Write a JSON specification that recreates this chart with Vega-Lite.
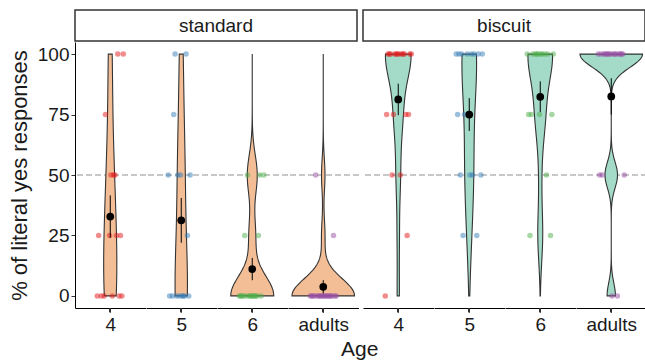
{
  "$schema": "https://vega.github.io/schema/vega-lite/v6.json",
  "background": "white",
  "padding": {"left": 8, "top": 9, "right": 1, "bottom": 0},
  "config": {
    "view": {"stroke": null},
    "font": "Liberation Sans",
    "axis": {"grid": false, "domainColor": "#000000", "tickColor": "#333333", "labelColor": "#1a1a1a", "titleColor": "#1a1a1a", "labelFont": "Liberation Sans", "titleFont": "Liberation Sans", "titleFontWeight": "normal"},
    "axisX": {"labels": false, "ticks": false, "domain": true, "titleFontSize": 19, "titlePadding": 7},
    "circle": {"size": 30, "opacity": 0.5},
    "errorbar": {"color": "black", "thickness": 1.3},
    "area": {"stroke": "#333333", "strokeWidth": 1.1}
  },
  "datasets": {
    "standard": [
      {"age": "4", "v": 0, "id": 1}, {"age": "4", "v": 0, "id": 4}, {"age": "4", "v": 0, "id": 6}, {"age": "4", "v": 0, "id": 12}, {"age": "4", "v": 0, "id": 17}, {"age": "4", "v": 0, "id": 19},
      {"age": "4", "v": 25, "id": 2}, {"age": "4", "v": 25, "id": 10}, {"age": "4", "v": 25, "id": 15}, {"age": "4", "v": 25, "id": 18},
      {"age": "4", "v": 50, "id": 11}, {"age": "4", "v": 50, "id": 13}, {"age": "4", "v": 50, "id": 14},
      {"age": "4", "v": 75, "id": 7},
      {"age": "4", "v": 100, "id": 16}, {"age": "4", "v": 100, "id": 20},
      {"age": "5", "v": 100, "id": 6}, {"age": "5", "v": 100, "id": 14},
      {"age": "5", "v": 75, "id": 5},
      {"age": "5", "v": 50, "id": 1}, {"age": "5", "v": 50, "id": 8}, {"age": "5", "v": 50, "id": 10}, {"age": "5", "v": 50, "id": 17},
      {"age": "5", "v": 25, "id": 15},
      {"age": "5", "v": 0, "id": 2}, {"age": "5", "v": 0, "id": 4}, {"age": "5", "v": 0, "id": 7}, {"age": "5", "v": 0, "id": 9}, {"age": "5", "v": 0, "id": 11}, {"age": "5", "v": 0, "id": 12}, {"age": "5", "v": 0, "id": 13}, {"age": "5", "v": 0, "id": 16},
      {"age": "6", "v": 50, "id": 7}, {"age": "6", "v": 50, "id": 16}, {"age": "6", "v": 50, "id": 19},
      {"age": "6", "v": 25, "id": 5}, {"age": "6", "v": 25, "id": 15},
      {"age": "6", "v": 0, "id": 1}, {"age": "6", "v": 0, "id": 2}, {"age": "6", "v": 0, "id": 3}, {"age": "6", "v": 0, "id": 4}, {"age": "6", "v": 0, "id": 6}, {"age": "6", "v": 0, "id": 8}, {"age": "6", "v": 0, "id": 9}, {"age": "6", "v": 0, "id": 10}, {"age": "6", "v": 0, "id": 11}, {"age": "6", "v": 0, "id": 12}, {"age": "6", "v": 0, "id": 13}, {"age": "6", "v": 0, "id": 14}, {"age": "6", "v": 0, "id": 17},
      {"age": "adults", "v": 50, "id": 5},
      {"age": "adults", "v": 25, "id": 18},
      {"age": "adults", "v": 0, "id": 1}, {"age": "adults", "v": 0, "id": 2}, {"age": "adults", "v": 0, "id": 3}, {"age": "adults", "v": 0, "id": 4}, {"age": "adults", "v": 0, "id": 6}, {"age": "adults", "v": 0, "id": 7}, {"age": "adults", "v": 0, "id": 8}, {"age": "adults", "v": 0, "id": 9}, {"age": "adults", "v": 0, "id": 10}, {"age": "adults", "v": 0, "id": 11}, {"age": "adults", "v": 0, "id": 12}, {"age": "adults", "v": 0, "id": 13}, {"age": "adults", "v": 0, "id": 14}, {"age": "adults", "v": 0, "id": 15}, {"age": "adults", "v": 0, "id": 16}, {"age": "adults", "v": 0, "id": 17}, {"age": "adults", "v": 0, "id": 19}, {"age": "adults", "v": 0, "id": 20}
    ],
    "biscuit": [
      {"age": "4", "v": 75, "id": 2}, {"age": "4", "v": 75, "id": 7}, {"age": "4", "v": 75, "id": 16}, {"age": "4", "v": 75, "id": 18},
      {"age": "4", "v": 50, "id": 6}, {"age": "4", "v": 50, "id": 12},
      {"age": "4", "v": 25, "id": 17},
      {"age": "4", "v": 0, "id": 1},
      {"age": "4", "v": 100, "id": 3}, {"age": "4", "v": 100, "id": 4}, {"age": "4", "v": 100, "id": 5}, {"age": "4", "v": 100, "id": 8}, {"age": "4", "v": 100, "id": 9}, {"age": "4", "v": 100, "id": 10}, {"age": "4", "v": 100, "id": 11}, {"age": "4", "v": 100, "id": 13}, {"age": "4", "v": 100, "id": 14}, {"age": "4", "v": 100, "id": 15}, {"age": "4", "v": 100, "id": 19}, {"age": "4", "v": 100, "id": 20},
      {"age": "5", "v": 75, "id": 2}, {"age": "5", "v": 75, "id": 7}, {"age": "5", "v": 75, "id": 10},
      {"age": "5", "v": 50, "id": 4}, {"age": "5", "v": 50, "id": 11}, {"age": "5", "v": 50, "id": 13}, {"age": "5", "v": 50, "id": 19},
      {"age": "5", "v": 25, "id": 6}, {"age": "5", "v": 25, "id": 16},
      {"age": "5", "v": 100, "id": 1}, {"age": "5", "v": 100, "id": 3}, {"age": "5", "v": 100, "id": 5}, {"age": "5", "v": 100, "id": 9}, {"age": "5", "v": 100, "id": 12}, {"age": "5", "v": 100, "id": 14}, {"age": "5", "v": 100, "id": 17}, {"age": "5", "v": 100, "id": 20},
      {"age": "6", "v": 75, "id": 2}, {"age": "6", "v": 75, "id": 4}, {"age": "6", "v": 75, "id": 10}, {"age": "6", "v": 75, "id": 19},
      {"age": "6", "v": 50, "id": 15},
      {"age": "6", "v": 25, "id": 3}, {"age": "6", "v": 25, "id": 18},
      {"age": "6", "v": 100, "id": 1}, {"age": "6", "v": 100, "id": 5}, {"age": "6", "v": 100, "id": 7}, {"age": "6", "v": 100, "id": 8}, {"age": "6", "v": 100, "id": 9}, {"age": "6", "v": 100, "id": 11}, {"age": "6", "v": 100, "id": 12}, {"age": "6", "v": 100, "id": 14}, {"age": "6", "v": 100, "id": 16}, {"age": "6", "v": 100, "id": 20},
      {"age": "adults", "v": 50, "id": 2}, {"age": "adults", "v": 50, "id": 4}, {"age": "adults", "v": 50, "id": 20},
      {"age": "adults", "v": 0, "id": 11}, {"age": "adults", "v": 0, "id": 15},
      {"age": "adults", "v": 100, "id": 1}, {"age": "adults", "v": 100, "id": 3}, {"age": "adults", "v": 100, "id": 5}, {"age": "adults", "v": 100, "id": 6}, {"age": "adults", "v": 100, "id": 7}, {"age": "adults", "v": 100, "id": 8}, {"age": "adults", "v": 100, "id": 9}, {"age": "adults", "v": 100, "id": 10}, {"age": "adults", "v": 100, "id": 12}, {"age": "adults", "v": 100, "id": 13}, {"age": "adults", "v": 100, "id": 14}, {"age": "adults", "v": 100, "id": 16}, {"age": "adults", "v": 100, "id": 17}, {"age": "adults", "v": 100, "id": 18}, {"age": "adults", "v": 100, "id": 19}
    ]
  },
  "title": {"text": "Age", "orient": "bottom", "anchor": "middle", "fontSize": 21, "fontWeight": "normal", "color": "#1a1a1a", "offset": 5, "dx": 32},
  "spacing": 2,
  "hconcat": [
    {
      "spacing": 0,
      "vconcat": [
        {
          "data": {"values": [{"t": "standard"}]},
          "width": 282, "height": 31,
          "view": {"stroke": "#333333", "strokeWidth": 1.5},
          "mark": {"type": "text", "fontSize": 19, "color": "#1a1a1a"},
          "encoding": {"text": {"field": "t"}}
        },
        {
          "spacing": 0,
          "bounds": "flush",
          "resolve": {"scale": {"x": "shared"}},
          "hconcat": [
            {
              "width": 70.5, "height": 266, "data": {"name": "standard"},
              "layer": [
                {"mark": {"type": "rule", "color": "#c8c8c8", "strokeDash": [5, 4], "strokeWidth": 1.2}, "encoding": {"y": {"datum": 50, "type": "quantitative", "title": "% of literal yes responses"}}},
                {"transform": [{"density": "v", "groupby": ["age"], "as": ["value", "density"]}, {"stack": "density", "groupby": ["value", "age"], "offset": "center", "as": ["x0", "x1"]}, {"filter": "datum.age === '4'"}],
                 "mark": {"type": "area", "orient": "horizontal", "fill": "#F3BE96"},
                 "encoding": {"y": {"field": "value", "type": "quantitative", "title": "% of literal yes responses", "scale": {"domain": [-5, 105], "nice": false, "zero": false}, "axis": {"values": [0, 25, 50, 75, 100], "labelFontSize": 19, "titleFontSize": 22, "tickSize": 4, "labelPadding": 2, "titlePadding": 6}},
                   "x": {"field": "x0", "type": "quantitative", "scale": {"nice": false, "zero": true, "padding": 4}, "axis": {"title": "4"}}, "x2": {"field": "x1"}}},
                {"transform": [{"filter": "datum.age === '4'"}], "mark": {"type": "rule", "color": "#333333"}, "encoding": {"y": {"datum": -5, "type": "quantitative", "title": "% of literal yes responses"}, "y2": {"datum": -6.7}}},
                {"transform": [{"filter": "datum.age === '4'"}], "mark": "circle", "encoding": {"xOffset": {"field": "id", "type": "quantitative", "scale": {"domain": [1, 20], "range": [-13, 13]}}, "y": {"field": "v", "type": "quantitative", "title": "% of literal yes responses"}, "color": {"field": "age", "type": "nominal", "scale": {"domain": ["4", "5", "6", "adults"], "range": ["#E41A1C", "#377EB8", "#4DAF4A", "#984EA3"]}, "legend": null}}},
                {"transform": [{"filter": "datum.age === '4'"}], "mark": {"type": "errorbar", "extent": "stderr"}, "encoding": {"y": {"field": "v", "type": "quantitative", "title": "% of literal yes responses"}}},
                {"transform": [{"filter": "datum.age === '4'"}], "mark": {"type": "point", "filled": true, "size": 60, "color": "black", "opacity": 1}, "encoding": {"y": {"field": "v", "aggregate": "mean", "type": "quantitative", "title": "% of literal yes responses"}}}
              ]
            },
            {
              "width": 70.5, "height": 266, "data": {"name": "standard"},
              "layer": [
                {"mark": {"type": "rule", "color": "#c8c8c8", "strokeDash": [5, 4], "strokeWidth": 1.2}, "encoding": {"y": {"datum": 50, "type": "quantitative", "axis": null}}},
                {"transform": [{"density": "v", "groupby": ["age"], "as": ["value", "density"]}, {"stack": "density", "groupby": ["value", "age"], "offset": "center", "as": ["x0", "x1"]}, {"filter": "datum.age === '5'"}],
                 "mark": {"type": "area", "orient": "horizontal", "fill": "#F3BE96"},
                 "encoding": {"y": {"field": "value", "type": "quantitative", "scale": {"domain": [-5, 105], "nice": false, "zero": false}, "axis": null},
                   "x": {"field": "x0", "type": "quantitative", "scale": {"nice": false, "zero": true, "padding": 4}, "axis": {"title": "5"}}, "x2": {"field": "x1"}}},
                {"transform": [{"filter": "datum.age === '5'"}], "mark": {"type": "rule", "color": "#333333"}, "encoding": {"y": {"datum": -5, "type": "quantitative", "axis": null}, "y2": {"datum": -6.7}}},
                {"transform": [{"filter": "datum.age === '5'"}], "mark": "circle", "encoding": {"xOffset": {"field": "id", "type": "quantitative", "scale": {"domain": [1, 20], "range": [-13, 13]}}, "y": {"field": "v", "type": "quantitative", "axis": null}, "color": {"field": "age", "type": "nominal", "legend": null}}},
                {"transform": [{"filter": "datum.age === '5'"}], "mark": {"type": "errorbar", "extent": "stderr"}, "encoding": {"y": {"field": "v", "type": "quantitative", "axis": null}}},
                {"transform": [{"filter": "datum.age === '5'"}], "mark": {"type": "point", "filled": true, "size": 60, "color": "black", "opacity": 1}, "encoding": {"y": {"field": "v", "aggregate": "mean", "type": "quantitative", "axis": null}}}
              ]
            },
            {
              "width": 70.5, "height": 266, "data": {"name": "standard"},
              "layer": [
                {"mark": {"type": "rule", "color": "#c8c8c8", "strokeDash": [5, 4], "strokeWidth": 1.2}, "encoding": {"y": {"datum": 50, "type": "quantitative", "axis": null}}},
                {"transform": [{"density": "v", "groupby": ["age"], "as": ["value", "density"]}, {"stack": "density", "groupby": ["value", "age"], "offset": "center", "as": ["x0", "x1"]}, {"filter": "datum.age === '6'"}],
                 "mark": {"type": "area", "orient": "horizontal", "fill": "#F3BE96"},
                 "encoding": {"y": {"field": "value", "type": "quantitative", "scale": {"domain": [-5, 105], "nice": false, "zero": false}, "axis": null},
                   "x": {"field": "x0", "type": "quantitative", "scale": {"nice": false, "zero": true, "padding": 4}, "axis": {"title": "6"}}, "x2": {"field": "x1"}}},
                {"transform": [{"filter": "datum.age === '6'"}], "mark": {"type": "rule", "color": "#333333"}, "encoding": {"y": {"datum": -5, "type": "quantitative", "axis": null}, "y2": {"datum": -6.7}}},
                {"transform": [{"filter": "datum.age === '6'"}], "mark": "circle", "encoding": {"xOffset": {"field": "id", "type": "quantitative", "scale": {"domain": [1, 20], "range": [-13, 13]}}, "y": {"field": "v", "type": "quantitative", "axis": null}, "color": {"field": "age", "type": "nominal", "legend": null}}},
                {"transform": [{"filter": "datum.age === '6'"}], "mark": {"type": "errorbar", "extent": "stderr"}, "encoding": {"y": {"field": "v", "type": "quantitative", "axis": null}}},
                {"transform": [{"filter": "datum.age === '6'"}], "mark": {"type": "point", "filled": true, "size": 60, "color": "black", "opacity": 1}, "encoding": {"y": {"field": "v", "aggregate": "mean", "type": "quantitative", "axis": null}}}
              ]
            },
            {
              "width": 70.5, "height": 266, "data": {"name": "standard"},
              "layer": [
                {"mark": {"type": "rule", "color": "#c8c8c8", "strokeDash": [5, 4], "strokeWidth": 1.2}, "encoding": {"y": {"datum": 50, "type": "quantitative", "axis": null}}},
                {"transform": [{"density": "v", "groupby": ["age"], "as": ["value", "density"]}, {"stack": "density", "groupby": ["value", "age"], "offset": "center", "as": ["x0", "x1"]}, {"filter": "datum.age === 'adults'"}],
                 "mark": {"type": "area", "orient": "horizontal", "fill": "#F3BE96"},
                 "encoding": {"y": {"field": "value", "type": "quantitative", "scale": {"domain": [-5, 105], "nice": false, "zero": false}, "axis": null},
                   "x": {"field": "x0", "type": "quantitative", "scale": {"nice": false, "zero": true, "padding": 4}, "axis": {"title": "adults"}}, "x2": {"field": "x1"}}},
                {"transform": [{"filter": "datum.age === 'adults'"}], "mark": {"type": "rule", "color": "#333333"}, "encoding": {"y": {"datum": -5, "type": "quantitative", "axis": null}, "y2": {"datum": -6.7}}},
                {"transform": [{"filter": "datum.age === 'adults'"}], "mark": "circle", "encoding": {"xOffset": {"field": "id", "type": "quantitative", "scale": {"domain": [1, 20], "range": [-13, 13]}}, "y": {"field": "v", "type": "quantitative", "axis": null}, "color": {"field": "age", "type": "nominal", "legend": null}}},
                {"transform": [{"filter": "datum.age === 'adults'"}], "mark": {"type": "errorbar", "extent": "stderr"}, "encoding": {"y": {"field": "v", "type": "quantitative", "axis": null}}},
                {"transform": [{"filter": "datum.age === 'adults'"}], "mark": {"type": "point", "filled": true, "size": 60, "color": "black", "opacity": 1}, "encoding": {"y": {"field": "v", "aggregate": "mean", "type": "quantitative", "axis": null}}}
              ]
            }
          ]
        }
      ]
    },
    {
      "spacing": 0,
      "vconcat": [
        {
          "data": {"values": [{"t": "biscuit"}]},
          "width": 282, "height": 31,
          "view": {"stroke": "#333333", "strokeWidth": 1.5},
          "mark": {"type": "text", "fontSize": 19, "color": "#1a1a1a"},
          "encoding": {"text": {"field": "t"}}
        },
        {
          "spacing": 0,
          "bounds": "flush",
          "resolve": {"scale": {"x": "shared"}},
          "hconcat": [
            {
              "width": 70.5, "height": 266, "data": {"name": "biscuit"},
              "layer": [
                {"mark": {"type": "rule", "color": "#c8c8c8", "strokeDash": [5, 4], "strokeWidth": 1.2}, "encoding": {"y": {"datum": 50, "type": "quantitative", "axis": null}}},
                {"transform": [{"density": "v", "groupby": ["age"], "as": ["value", "density"]}, {"stack": "density", "groupby": ["value", "age"], "offset": "center", "as": ["x0", "x1"]}, {"filter": "datum.age === '4'"}],
                 "mark": {"type": "area", "orient": "horizontal", "fill": "#A3DBC8"},
                 "encoding": {"y": {"field": "value", "type": "quantitative", "scale": {"domain": [-5, 105], "nice": false, "zero": false}, "axis": null},
                   "x": {"field": "x0", "type": "quantitative", "scale": {"nice": false, "zero": true, "padding": 4}, "axis": {"title": "4"}}, "x2": {"field": "x1"}}},
                {"transform": [{"filter": "datum.age === '4'"}], "mark": {"type": "rule", "color": "#333333"}, "encoding": {"y": {"datum": -5, "type": "quantitative", "axis": null}, "y2": {"datum": -6.7}}},
                {"transform": [{"filter": "datum.age === '4'"}], "mark": "circle", "encoding": {"xOffset": {"field": "id", "type": "quantitative", "scale": {"domain": [1, 20], "range": [-13, 13]}}, "y": {"field": "v", "type": "quantitative", "axis": null}, "color": {"field": "age", "type": "nominal", "legend": null}}},
                {"transform": [{"filter": "datum.age === '4'"}], "mark": {"type": "errorbar", "extent": "stderr"}, "encoding": {"y": {"field": "v", "type": "quantitative", "axis": null}}},
                {"transform": [{"filter": "datum.age === '4'"}], "mark": {"type": "point", "filled": true, "size": 60, "color": "black", "opacity": 1}, "encoding": {"y": {"field": "v", "aggregate": "mean", "type": "quantitative", "axis": null}}}
              ]
            },
            {
              "width": 70.5, "height": 266, "data": {"name": "biscuit"},
              "layer": [
                {"mark": {"type": "rule", "color": "#c8c8c8", "strokeDash": [5, 4], "strokeWidth": 1.2}, "encoding": {"y": {"datum": 50, "type": "quantitative", "axis": null}}},
                {"transform": [{"density": "v", "groupby": ["age"], "as": ["value", "density"]}, {"stack": "density", "groupby": ["value", "age"], "offset": "center", "as": ["x0", "x1"]}, {"filter": "datum.age === '5'"}],
                 "mark": {"type": "area", "orient": "horizontal", "fill": "#A3DBC8"},
                 "encoding": {"y": {"field": "value", "type": "quantitative", "scale": {"domain": [-5, 105], "nice": false, "zero": false}, "axis": null},
                   "x": {"field": "x0", "type": "quantitative", "scale": {"nice": false, "zero": true, "padding": 4}, "axis": {"title": "5"}}, "x2": {"field": "x1"}}},
                {"transform": [{"filter": "datum.age === '5'"}], "mark": {"type": "rule", "color": "#333333"}, "encoding": {"y": {"datum": -5, "type": "quantitative", "axis": null}, "y2": {"datum": -6.7}}},
                {"transform": [{"filter": "datum.age === '5'"}], "mark": "circle", "encoding": {"xOffset": {"field": "id", "type": "quantitative", "scale": {"domain": [1, 20], "range": [-13, 13]}}, "y": {"field": "v", "type": "quantitative", "axis": null}, "color": {"field": "age", "type": "nominal", "legend": null}}},
                {"transform": [{"filter": "datum.age === '5'"}], "mark": {"type": "errorbar", "extent": "stderr"}, "encoding": {"y": {"field": "v", "type": "quantitative", "axis": null}}},
                {"transform": [{"filter": "datum.age === '5'"}], "mark": {"type": "point", "filled": true, "size": 60, "color": "black", "opacity": 1}, "encoding": {"y": {"field": "v", "aggregate": "mean", "type": "quantitative", "axis": null}}}
              ]
            },
            {
              "width": 70.5, "height": 266, "data": {"name": "biscuit"},
              "layer": [
                {"mark": {"type": "rule", "color": "#c8c8c8", "strokeDash": [5, 4], "strokeWidth": 1.2}, "encoding": {"y": {"datum": 50, "type": "quantitative", "axis": null}}},
                {"transform": [{"density": "v", "groupby": ["age"], "as": ["value", "density"]}, {"stack": "density", "groupby": ["value", "age"], "offset": "center", "as": ["x0", "x1"]}, {"filter": "datum.age === '6'"}],
                 "mark": {"type": "area", "orient": "horizontal", "fill": "#A3DBC8"},
                 "encoding": {"y": {"field": "value", "type": "quantitative", "scale": {"domain": [-5, 105], "nice": false, "zero": false}, "axis": null},
                   "x": {"field": "x0", "type": "quantitative", "scale": {"nice": false, "zero": true, "padding": 4}, "axis": {"title": "6"}}, "x2": {"field": "x1"}}},
                {"transform": [{"filter": "datum.age === '6'"}], "mark": {"type": "rule", "color": "#333333"}, "encoding": {"y": {"datum": -5, "type": "quantitative", "axis": null}, "y2": {"datum": -6.7}}},
                {"transform": [{"filter": "datum.age === '6'"}], "mark": "circle", "encoding": {"xOffset": {"field": "id", "type": "quantitative", "scale": {"domain": [1, 20], "range": [-13, 13]}}, "y": {"field": "v", "type": "quantitative", "axis": null}, "color": {"field": "age", "type": "nominal", "legend": null}}},
                {"transform": [{"filter": "datum.age === '6'"}], "mark": {"type": "errorbar", "extent": "stderr"}, "encoding": {"y": {"field": "v", "type": "quantitative", "axis": null}}},
                {"transform": [{"filter": "datum.age === '6'"}], "mark": {"type": "point", "filled": true, "size": 60, "color": "black", "opacity": 1}, "encoding": {"y": {"field": "v", "aggregate": "mean", "type": "quantitative", "axis": null}}}
              ]
            },
            {
              "width": 70.5, "height": 266, "data": {"name": "biscuit"},
              "layer": [
                {"mark": {"type": "rule", "color": "#c8c8c8", "strokeDash": [5, 4], "strokeWidth": 1.2}, "encoding": {"y": {"datum": 50, "type": "quantitative", "axis": null}}},
                {"transform": [{"density": "v", "groupby": ["age"], "as": ["value", "density"]}, {"stack": "density", "groupby": ["value", "age"], "offset": "center", "as": ["x0", "x1"]}, {"filter": "datum.age === 'adults'"}],
                 "mark": {"type": "area", "orient": "horizontal", "fill": "#A3DBC8"},
                 "encoding": {"y": {"field": "value", "type": "quantitative", "scale": {"domain": [-5, 105], "nice": false, "zero": false}, "axis": null},
                   "x": {"field": "x0", "type": "quantitative", "scale": {"nice": false, "zero": true, "padding": 4}, "axis": {"title": "adults"}}, "x2": {"field": "x1"}}},
                {"transform": [{"filter": "datum.age === 'adults'"}], "mark": {"type": "rule", "color": "#333333"}, "encoding": {"y": {"datum": -5, "type": "quantitative", "axis": null}, "y2": {"datum": -6.7}}},
                {"transform": [{"filter": "datum.age === 'adults'"}], "mark": "circle", "encoding": {"xOffset": {"field": "id", "type": "quantitative", "scale": {"domain": [1, 20], "range": [-13, 13]}}, "y": {"field": "v", "type": "quantitative", "axis": null}, "color": {"field": "age", "type": "nominal", "legend": null}}},
                {"transform": [{"filter": "datum.age === 'adults'"}], "mark": {"type": "errorbar", "extent": "stderr"}, "encoding": {"y": {"field": "v", "type": "quantitative", "axis": null}}},
                {"transform": [{"filter": "datum.age === 'adults'"}], "mark": {"type": "point", "filled": true, "size": 60, "color": "black", "opacity": 1}, "encoding": {"y": {"field": "v", "aggregate": "mean", "type": "quantitative", "axis": null}}}
              ]
            }
          ]
        }
      ]
    }
  ]
}
